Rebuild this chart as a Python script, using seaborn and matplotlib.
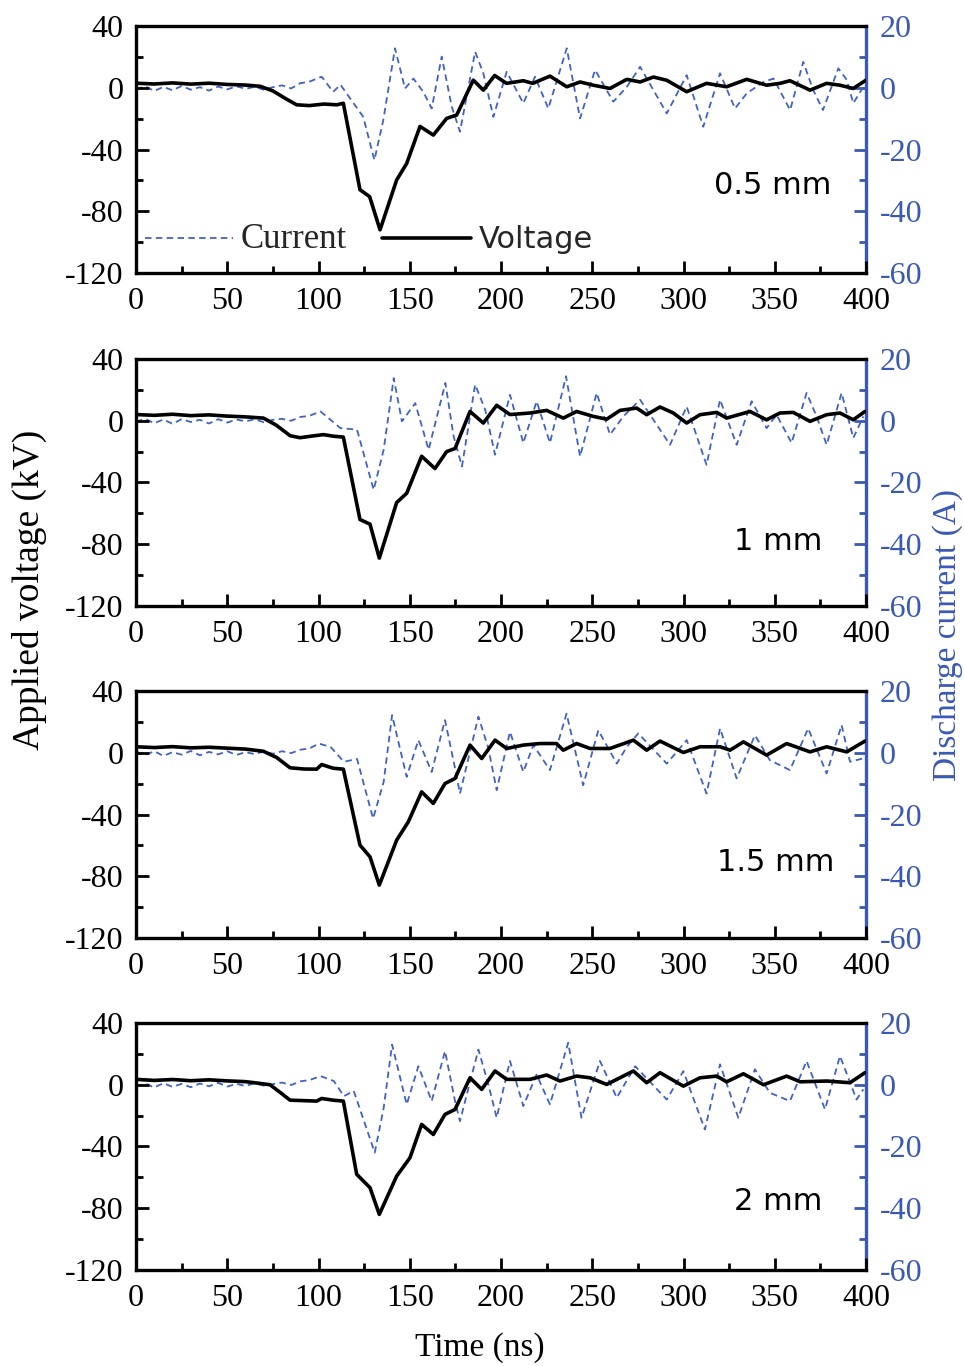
import numpy as np
import pandas as pd
import matplotlib
matplotlib.use("Agg")
import matplotlib.pyplot as plt
from matplotlib.ticker import MultipleLocator
import seaborn as sns

# ---------------- data ----------------
gap_labels = ["0.5 mm", "1 mm", "1.5 mm", "2 mm"]

early_t = [0, 10, 20, 30, 40, 50, 60, 68, 75, 82, 88, 95, 103, 110]
noise_t = [0, 5, 10, 15, 20, 25, 30, 35, 40, 45, 50, 55, 60, 65, 70, 75, 80, 85, 90, 95]

# panel 1 (0.5 mm)
v1_t = early_t + [113.6, 122.7, 128, 133.7, 142.8, 148.3, 155.6, 162.9, 170.2, 175.7, 184.8,
                  190.3, 196.5, 203, 212.2, 217.4, 226.8, 236, 243.3, 250.6, 259.7, 268.9, 276.2,
                  283.5, 290.8, 301.7, 312.6, 323.6, 334.6, 345.5, 352.8, 358.3, 369.3, 378.4,
                  385.7, 393, 400]
v1_v = [3, 2.5, 3.2, 2.4, 3, 2.2, 1.8, 1, -2, -7, -11, -11.5, -10.5, -11] + \
       [-10, -66, -70.5, -92, -59.7, -49, -25, -30.6, -19.8, -17.6, 5,
        -1.5, 8, 2.9, 4.6, 2.9, 7.6, 0.7, 3.8, 1.7, -0.4, 5.5, 3.8,
        7, 4.9, -2.5, 2.9, 0.7, 5.5, 1.7, 2.9, 4.6, -1.5, 2.9,
        1.7, -0.4, 5]
c1_t = noise_t + [101.7, 108, 112, 117.3, 124.5, 130.6, 135.5, 141.9, 147.4, 152, 157.4, 162,
                  167.5, 173, 177.5, 185.8, 190.3, 195.8, 203.1, 212.2, 218.6, 225.9, 236,
                  243.3, 251.5, 261.5, 268.9, 276.2, 290.8, 301.7, 310.8, 320, 328.2, 334.6,
                  343.8, 349.3, 358.4, 365.6, 371, 376.4, 384.8, 389.4, 393, 398.5]
c1_i = [-0.5, 0.5, -1, 0.3, -0.8, 0.6, -0.6, 0.2, -0.9, 0.4, -0.5, 0.5, -0.3, 0.3, -0.6, 0.2,
        0.8, -0.2, 1.5, 2.0] + \
       [3.6, -1.3, 1, -3.4, -9.4, -23.4, -10.4, 12.8, -0.2, 3, -1.3, -6.7,
        10.1, -6.1, -14.2, 11.7, 4.7, -9.4, 5.2, -5, 3.6, -6.7, 12.8,
        -9.9, 5.8, -4.5, 0.3, 6.8, -8.3, 4.1, -12.6, 4.7, -6.7, -1.8,
        1.9, 3, -7.2, 8.4, -0.7, -7.2, 6.3, 2.6, -5, 0.3]

# panel 2 (1 mm)
v2_t = [0, 10, 20, 30, 40, 50, 60, 69.8, 77, 84.4, 89.9, 96, 102.7, 108, 113.6, 122.7, 128.2,
        133.3, 142.8, 148.3, 156.5, 163.8, 170.2, 174.8, 183, 190.3, 197.6, 204.9, 215.9,
        225, 234.1, 241.4, 250.6, 257.9, 265.2, 274.3, 279.8, 287.1, 294.4, 301.7, 309,
        318.2, 323.6, 336.4, 345.5, 352.8, 360.1, 369.3, 378.4, 385.7, 393, 399.4]
v2_v = [4, 3.5, 4.2, 3.3, 3.8, 3, 2.5, 1.7, -3, -9.7, -11, -10, -9, -10, -10.6, -64, -67,
        -89, -53, -47, -23, -31, -20, -18, 6, -1.5, 10, 4, 5,
        6.7, 1.7, 6, 2.8, 1, 6.7, 8.2, 3.9, 8.9, 5, -1.5, 3.9,
        5.4, 1.7, 6, 0.6, 5, 5.4, -0.4, 3.9, 5, 0.6, 6]
c2_t = noise_t + [101.1, 112, 121.1, 130.2, 135.7, 141.2, 145.7, 153, 160.3, 169.5, 174, 178.6,
                  185.8, 191.3, 196.7, 204.9, 212.2, 219.5, 226.8, 235.6, 243.3, 252.4, 259.7,
                  267, 276.2, 292.6, 301.7, 312.6, 320, 329.1, 337.3, 345.5, 351, 359.2, 367.4,
                  372.9, 378.4, 386.6, 393, 398.5]
c2_i = [-0.3, 0.6, -0.8, 0.4, -1.0, 0.5, -0.4, 0.3, -0.9, 0.5, -0.6, 0.4, -0.2, 0.5, -0.5, 0.3,
        0.6, 0.0, 1.2, 1.6] + \
       [3, -2.4, -2.9, -22.4, -9.4, 13.8, -0.2, 5.7, -9.4, 12.2, -5, -14.8,
        11.7, 3.6, -11, 8.4, -7.2, 6.3, -7.2, 14.4, -11.6, 9, -4.5,
        1.4, 6.8, -7.8, 4.6, -14.3, 6.8, -7.8, 6.3, -2.4, 1.9, -7.2, 9,
        1.4, -7.8, 9, -5.6, 1.4]

# panel 3 (1.5 mm)
v3_t = [0, 10, 20, 30, 40, 50, 60, 69.8, 77, 84.4, 92, 99, 101.7, 108, 113.6, 122.7, 128.2,
        133.3, 142.8, 149.2, 156.5, 162.9, 169.3, 174.8, 183, 189.4, 196.7, 203.1, 212.2,
        221.3, 230.4, 234.1, 241.4, 248.8, 259.7, 272.5, 279.8, 287.1, 293.5, 299.9, 309,
        320, 325.5, 332.8, 345.5, 356.5, 369.3, 378.4, 389.4, 399.4]
v3_v = [3.9, 3.4, 4, 3.2, 3.6, 3, 2.4, 1, -3, -9.7, -10.5, -10.6, -7.6, -10, -10.6, -59.8, -67.4,
        -85.7, -56.6, -44.7, -25.3, -32.8, -19.9, -16.6, 5, -3.7, 8.2, 2.8, 5,
        6, 6, 1.7, 6, 2.8, 2.8, 8.2, 1.7, 7.6, 3.9, 0.2, 3.9,
        3.9, 1.7, 7.1, -1.5, 6, 0.6, 3.9, 0.6, 7.6]
c3_t = noise_t + [100.2, 106.6, 113.9, 121.1, 129.9, 135.7, 140.3, 148.3, 154.7, 162, 169.3,
                  174.8, 177.5, 187.6, 193.1, 197.6, 204.9, 212.2, 217.7, 226.8, 235.9, 245,
                  253.3, 263.4, 268.9, 275.2, 290.8, 301.7, 312.6, 320, 329.1, 339.1, 347.3,
                  358.3, 368.3, 378.4, 386.6, 391.2, 398.5]
c3_i = [0.4, -0.7, 0.5, -1.0, 0.2, -0.6, 0.6, -0.8, 0.3, -0.5, 0.5, -0.7, 0.2, -0.4, 0.4, -0.3,
        0.5, -0.1, 1.0, 1.4] + \
       [3, 1.9, -2.9, -2, -21.3, -9.4, 12.2, -7.8, 4.1, -6.2, 10.6,
        -5, -13.2, 11.7, 1.4, -12.1, 6.8, -6.2, 2.5, -5.6, 12.7, -10.5,
        7.3, -3.5, 1.9, 6.3, -3.5, 4.1, -13.2, 7.9, -8.3, 5.7, -2.4,
        -5.6, 7.9, -6.7, 9, -2.9, -1.8]

# panel 4 (2 mm)
v4_t = [0, 10, 20, 30, 40, 50, 60, 67, 73.4, 79, 84.4, 92, 99, 101.7, 108, 113.6, 120.9, 128.2,
        133.3, 142.8, 150.1, 156.5, 162.9, 169.3, 174.8, 183, 189.4, 196.7, 203.1, 215.9,
        225, 232.3, 241.4, 248.8, 257.9, 272.5, 279.8, 287.1, 299.9, 309, 318.2, 323.6,
        332.8, 343.8, 356.5, 363.9, 378.4, 391.2, 399.4]
v4_v = [3.5, 2.8, 3.4, 2.6, 3.2, 2.5, 2, 1, 0, -5, -10, -10.3, -10.6, -8.9, -10, -10.6, -58, -66.7,
        -84, -59.2, -47.3, -25.7, -32.2, -19.2, -16, 4.5, -3, 8.9, 3.5, 3.5,
        6.3, 2.4, 5.6, 4.5, 0.2, 8.9, 1.3, 7.8, -0.9, 4.5, 5.6, 1.9,
        7.1, 0, 5.6, 1.9, 2.4, 1.3, 7.8]
c4_t = noise_t + [101.1, 108.4, 113.9, 119.3, 130.8, 135.7, 140.3, 148.3, 154.7, 162, 169.3,
                  174.8, 177.5, 187.6, 193.1, 197.6, 204.9, 212.2, 219.5, 226.8, 236.8, 244.1,
                  254.2, 263.4, 273.5, 290.8, 299.9, 311.7, 320, 330, 339.1, 347.3, 358.3,
                  367.4, 377.5, 385.7, 394.8, 398.5]
c4_i = [-0.6, 0.4, -0.9, 0.5, -0.7, 0.3, -0.8, 0.4, -0.5, 0.6, -0.6, 0.3, -0.4, 0.5, -0.3, 0.2,
        0.7, -0.1, 1.1, 1.5] + \
       [2.8, 1.2, -3.7, -2, -22, -7.5, 13, -6.4, 6, -5.3, 10.9,
        -5.3, -11.8, 11.4, 0, -10.7, 7.7, -6.9, 3.3, -6.4, 13.6, -10.7,
        7.7, -4.2, 6, -4.8, 4.4, -14.5, 6.6, -10.7, 5, -2.6, -5.3,
        7.7, -8, 9.3, -4.8, -1.5]

volt_t = [v1_t, v2_t, v3_t, v4_t]
volt_v = [v1_v, v2_v, v3_v, v4_v]
curr_t = [c1_t, c2_t, c3_t, c4_t]
curr_i = [c1_i, c2_i, c3_i, c4_i]

x_ticks = [0, 50, 100, 150, 200, 250, 300, 350, 400]
v_ticks = [-120, -80, -40, 0, 40]
i_ticks = [-60, -40, -20, 0, 20]

# ---------------- style ----------------
sns.set_theme(style="ticks")
plt.rcParams["font.family"] = ["Liberation Serif", "DejaVu Serif"]
plt.rcParams["axes.unicode_minus"] = False

BLUE = "#3a58b5"
LINE_BLUE = "#4062c4"

fig = plt.figure(figsize=(9.64, 13.66), dpi=100)
left, width, height = 0.1411, 0.7573, 0.1808
bottoms = [0.8001, 0.5564, 0.3133, 0.0703]
label_pos = [(0.953, 0.356), (0.94, 0.262), (0.957, 0.306), (0.94, 0.277)]

for k in range(4):
    ax = fig.add_axes([left, bottoms[k], width, height])
    ax2 = ax.twinx()
    dv = pd.DataFrame({"t": volt_t[k], "v": volt_v[k]})
    dc = pd.DataFrame({"t": curr_t[k], "i": curr_i[k]})
    sns.lineplot(data=dc, x="t", y="i", ax=ax2, color=LINE_BLUE, linewidth=1.3,
                 linestyle="--", estimator=None, sort=True, legend=False)
    lc = ax2.lines[-1]
    lc.set_dashes([3.6, 2.4])
    sns.lineplot(data=dv, x="t", y="v", ax=ax, color="black", linewidth=2.6,
                 estimator=None, sort=True, legend=False)
    lv = ax.lines[-1]

    ax.set_zorder(ax2.get_zorder() + 1)
    ax.patch.set_visible(False)

    ax.set_xlim(0, 400)
    ax.set_ylim(-120, 40)
    ax2.set_ylim(-60, 20)
    ax.set_xticks(x_ticks)
    ax.set_yticks(v_ticks)
    ax2.set_yticks(i_ticks)
    ax.xaxis.set_minor_locator(MultipleLocator(25))
    ax.yaxis.set_minor_locator(MultipleLocator(20))
    ax2.yaxis.set_minor_locator(MultipleLocator(10))
    ax.set_xlabel("")
    ax.set_ylabel("")
    ax2.set_ylabel("")

    ax.tick_params(axis="both", which="both", direction="in", top=False, right=False,
                   bottom=True, left=True, width=2, colors="black", labelsize=23)
    ax.tick_params(axis="x", which="both", pad=10)
    ax.tick_params(axis="y", which="both", pad=9)
    ax.tick_params(which="major", length=9)
    ax.tick_params(which="minor", length=5)
    ax2.tick_params(axis="y", which="both", direction="in", left=False, right=True,
                    width=2, colors=BLUE, labelsize=23, pad=10)
    ax2.tick_params(axis="y", which="major", length=9)
    ax2.tick_params(axis="y", which="minor", length=5)

    for s in ["left", "top", "bottom"]:
        ax.spines[s].set_linewidth(2.4)
        ax.spines[s].set_color("black")
        ax2.spines[s].set_visible(False)
    ax.spines["right"].set_visible(False)
    ax2.spines["right"].set_linewidth(2.4)
    ax2.spines["right"].set_color(BLUE)

    lx, ly = label_pos[k]
    ax.text(lx, ly, gap_labels[k], transform=ax.transAxes, ha="right", va="center",
            fontsize=22, family="DejaVu Sans", color="black")

    if k == 0:
        leg = ax.legend(handles=[lc, lv], labels=["Current", "Voltage"], ncol=2,
                        loc="center left", bbox_to_anchor=(0.012, 0.134), frameon=False,
                        handlelength=2.9, handletextpad=0.25, columnspacing=1.15,
                        borderpad=0, borderaxespad=0, fontsize=22)
        leg.get_texts()[0].set_family("Liberation Serif")
        leg.get_texts()[0].set_fontsize(25)
        leg.get_texts()[1].set_family("DejaVu Sans")

fig.text(0.031, 1 - 590 / 1366, "Applied voltage (kV)", rotation=90, ha="center",
         va="center", fontsize=27, color="black")
fig.text(0.983, 1 - 635 / 1366, "Discharge current (A)", rotation=90, ha="center",
         va="center", fontsize=24, color=BLUE)
fig.text(480 / 964, 1 - 1348 / 1366, "Time (ns)", ha="center", va="center",
         fontsize=24, color="black")

fig.savefig("out.png", dpi=100)
